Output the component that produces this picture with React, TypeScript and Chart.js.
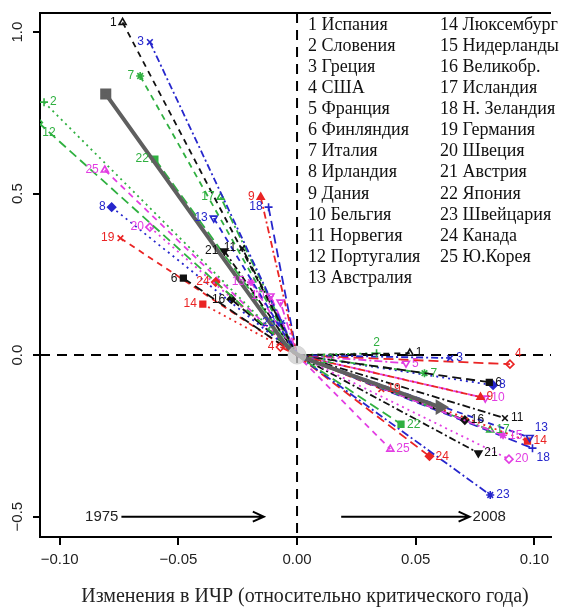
import React, { useEffect, useRef } from "react";
import { Chart, registerables } from "chart.js";
Chart.register(...registerables);

const countryNames = [
  "Испания", "Словения", "Греция", "США", "Франция", "Финляндия", "Италия",
  "Ирландия", "Дания", "Бельгия", "Норвегия", "Португалия", "Австралия",
  "Люксембург", "Нидерланды", "Великобр.", "Исландия", "Н. Зеландия",
  "Германия", "Швеция", "Австрия", "Япония", "Швейцария", "Канада", "Ю.Корея",
];

// 1975 positions (left)
const x1975 = [
  -0.0735, -0.1066, -0.062, -0.007, -0.007, -0.0479, -0.0661, -0.0781, -0.0153,
  -0.0112, -0.0231, -0.109, -0.0351, -0.0397, -0.0194, -0.0277, -0.0322, -0.012,
  -0.0744, -0.062, -0.0306, -0.0599, -0.0066, -0.0343, -0.081,
];
const y1975 = [
  1.03, 0.783, 0.969, 0.025, 0.164, 0.238, 0.864, 0.458, 0.489, 0.183, 0.331,
  0.72, 0.424, 0.158, 0.226, 0.173, 0.489, 0.458, 0.362, 0.396, 0.322, 0.607,
  0.099, 0.226, 0.573,
];
// 2008 positions (right)
const x2008 = [
  0.0475, 0.0335, 0.0645, 0.0897, 0.0459, 0.081, 0.0537, 0.0826, 0.0773,
  0.0793, 0.0876, 0.0074, 0.098, 0.0971, 0.0868, 0.0707, 0.0814, 0.0992,
  0.0355, 0.0893, 0.0764, 0.0438, 0.0814, 0.0558, 0.0393,
];
const y2008 = [
  0.006, 0.006, -0.009, -0.028, -0.025, -0.084, -0.056, -0.093, -0.13, -0.133,
  -0.195, -0.015, -0.255, -0.266, -0.248, -0.201, -0.232, -0.288, -0.105,
  -0.322, -0.303, -0.214, -0.433, -0.313, -0.291,
];

// average trajectory (gray)
const avgX = [-0.0806, -0.005, 0.0, 0.007, 0.0603];
const avgY = [0.808, 0.035, 0.003, -0.02, -0.161];

const xTicks = [-0.1, -0.05, 0, 0.05, 0.1];
const xTickLabels = ["−0.10", "−0.05", "0.00", "0.05", "0.10"];
const yTicks = [-0.5, 0, 0.5, 1.0];
const yTickLabels = ["−0.5", "0.0", "0.5", "1.0"];

const xTitle = "Изменения в ИЧР (относительно критического года)";
const leftYear = "1975";
const rightYear = "2008";
const leftArrowX = [-0.074, -0.014];
const rightArrowX = [0.0186, 0.0727];
const arrowY = -0.5;

// styles
const palette = ["#111111", "#2fb040", "#2626cc", "#ea2424", "#e23de2"];
const dashes = [[6, 5], [2, 4], [7, 3, 2, 3], [10, 5], [2, 3, 8, 3], [9, 5]];
const markerStyle = [
  "triangle", "cross", "crossRot", "rectRot", "triangle", "rect", "star",
  "rectRot", "triangle", "triangle", "crossRot", "rectRot", "triangle", "rect",
  "star", "rectRot", "triangle", "cross", "crossRot", "rectRot", "triangle",
  "rect", "star", "rectRot", "triangle",
];
const markerFilled = [0,0,0,0,0,1,0,1,1,0,0,0,0,1,0,1,0,0,0,0,1,1,0,1,0];
const markerFlip = [0,0,0,0,1,0,0,0,0,1,0,0,1,0,0,0,0,0,0,0,1,0,0,0,0];
const leftLabelPlace: Record<number, string> = { 2: "r", 12: "br" };
const rightLabelPlace: Record<number, string> = { 2: "t", 4: "tr", 13: "tr", 18: "br" };

export default function App() {
  const ref = useRef<HTMLCanvasElement>(null);
  useEffect(() => {
    if (!ref.current) return;
    const datasets: any[] = [];
    datasets.push({
      data: [{ x: 0, y: 0 }],
      pointRadius: 9,
      pointBackgroundColor: "rgba(205,205,205,0.75)",
      pointBorderColor: "rgba(205,205,205,0.75)",
      order: 0,
    });
    datasets.push({
      data: avgX.map((x, i) => ({ x, y: avgY[i] })),
      showLine: true,
      borderColor: "#5f5f5f",
      borderWidth: 4,
      tension: 0.3,
      pointRadius: avgX.map((_, i) => (i === 0 || i === avgX.length - 1 ? 5 : 0)),
      pointStyle: avgX.map((_, i) => (i === 0 ? "rect" : "triangle")),
      pointRotation: avgX.map((_, i) => (i === avgX.length - 1 ? 90 : 0)),
      pointBackgroundColor: "#5f5f5f",
      pointBorderColor: "#5f5f5f",
      order: 1,
    });
    countryNames.forEach((_, i) => {
      const col = palette[i % 5];
      datasets.push({
        data: [
          { x: x1975[i], y: y1975[i] },
          { x: 0, y: 0 },
          { x: x2008[i], y: y2008[i] },
        ],
        showLine: true,
        borderColor: col,
        borderWidth: 1.8,
        borderDash: dashes[i % 6],
        pointRadius: [4, 0, 4],
        pointStyle: markerStyle[i],
        pointRotation: markerFlip[i] ? 180 : 0,
        pointBackgroundColor: markerFilled[i] ? col : "rgba(255,255,255,0)",
        pointBorderColor: col,
        pointBorderWidth: 1.6,
        order: 2 + i,
      });
    });

    const drawPlugin = {
      id: "decor",
      beforeDatasetsDraw(chart: any) {
        const { ctx, chartArea, scales } = chart;
        const x0 = scales.x.getPixelForValue(0);
        const y0 = scales.y.getPixelForValue(0);
        ctx.save();
        ctx.strokeStyle = "#000";
        ctx.lineWidth = 2;
        ctx.setLineDash([10, 7]);
        ctx.beginPath();
        ctx.moveTo(chartArea.left, y0);
        ctx.lineTo(chartArea.right, y0);
        ctx.moveTo(x0, chartArea.top);
        ctx.lineTo(x0, chartArea.bottom);
        ctx.stroke();
        ctx.restore();
      },
      afterDraw(chart: any) {
        const { ctx, chartArea, scales } = chart;
        const sx = scales.x, sy = scales.y;
        ctx.save();
        // top border
        ctx.strokeStyle = "#000";
        ctx.lineWidth = 2;
        ctx.beginPath();
        ctx.moveTo(chartArea.left - 1, chartArea.top);
        ctx.lineTo(chartArea.right, chartArea.top);
        ctx.stroke();
        // y tick labels rotated
        ctx.fillStyle = "#222";
        ctx.font = "15px 'Liberation Sans', Arial, sans-serif";
        ctx.textAlign = "center";
        ctx.textBaseline = "middle";
        yTicks.forEach((v, i) => {
          const py = sy.getPixelForValue(v);
          ctx.save();
          ctx.translate(18, py);
          ctx.rotate(-Math.PI / 2);
          ctx.fillText(yTickLabels[i], 0, 0);
          ctx.restore();
        });
        // x axis title
        ctx.fillStyle = "#222";
        ctx.font = "20px 'Liberation Serif', 'Times New Roman', serif";
        ctx.textAlign = "center";
        ctx.textBaseline = "middle";
        ctx.fillText(xTitle, 305, 597);
        // legend
        ctx.font = "18px 'Liberation Serif', 'Times New Roman', serif";
        ctx.textAlign = "left";
        ctx.fillStyle = "#111";
        countryNames.forEach((n, i) => {
          const col = i < 13 ? 0 : 1;
          const row = i < 13 ? i : i - 13;
          ctx.fillText(`${i + 1} ${n}`, col === 0 ? 308 : 440, 25 + row * 21.1);
        });
        // arrows
        const ay = sy.getPixelForValue(arrowY);
        const drawArrow = (a: number, b: number) => {
          const pa = sx.getPixelForValue(a), pb = sx.getPixelForValue(b);
          ctx.strokeStyle = "#000";
          ctx.lineWidth = 2;
          ctx.beginPath();
          ctx.moveTo(pa, ay);
          ctx.lineTo(pb, ay);
          ctx.moveTo(pb - 11, ay - 5);
          ctx.lineTo(pb, ay);
          ctx.lineTo(pb - 11, ay + 5);
          ctx.stroke();
        };
        drawArrow(leftArrowX[0], leftArrowX[1]);
        drawArrow(rightArrowX[0], rightArrowX[1]);
        ctx.fillStyle = "#222";
        ctx.font = "15px 'Liberation Sans', Arial, sans-serif";
        ctx.textAlign = "right";
        ctx.fillText(leftYear, sx.getPixelForValue(leftArrowX[0]) - 3, ay);
        ctx.textAlign = "left";
        ctx.fillText(rightYear, sx.getPixelForValue(rightArrowX[1]) + 3, ay);
        // point labels
        ctx.save();
        ctx.beginPath();
        ctx.rect(chartArea.left, chartArea.top, chartArea.right - chartArea.left, chartArea.bottom - chartArea.top);
        ctx.clip();
        ctx.font = "12px 'Liberation Sans', Arial, sans-serif";
        const place = (txt: string, px: number, py: number, where: string) => {
          let dx = -6, dy = 0, al: CanvasTextAlign = "right";
          if (where === "r") { dx = 6; al = "left"; }
          if (where === "t") { dx = 0; dy = -10; al = "center"; }
          if (where === "tr") { dx = 5; dy = -10; al = "left"; }
          if (where === "br") { dx = 4; dy = 10; al = "left"; }
          ctx.textAlign = al;
          ctx.fillText(txt, px + dx, py + dy);
        };
        countryNames.forEach((_, i) => {
          ctx.fillStyle = palette[i % 5];
          const k = i + 1;
          place(String(k), sx.getPixelForValue(x1975[i]), sy.getPixelForValue(y1975[i]), leftLabelPlace[k] || "l");
          place(String(k), sx.getPixelForValue(x2008[i]), sy.getPixelForValue(y2008[i]), rightLabelPlace[k] || "r");
        });
        ctx.restore();
        ctx.restore();
      },
    };

    const chart = new Chart(ref.current, {
      type: "scatter",
      data: { datasets },
      options: {
        animation: false,
        responsive: false,
        devicePixelRatio: 1,
        layout: { padding: { top: 13, right: 0, left: 0, bottom: 0 } },
        plugins: { legend: { display: false }, tooltip: { enabled: false } },
        scales: {
          x: {
            type: "linear",
            min: -0.1083,
            max: 0.107,
            afterBuildTicks: (s: any) => { s.ticks = xTicks.map((v) => ({ value: v })); },
            afterFit: (s: any) => { s.height = 70; },
            grid: { display: true, drawOnChartArea: false, drawTicks: true, tickLength: 8, color: "#000", lineWidth: 2 },
            border: { display: true, color: "#000", width: 2 },
            ticks: {
              color: "#222",
              padding: 6,
              maxRotation: 0,
              font: { family: "'Liberation Sans', Arial, sans-serif", size: 15 },
              callback: (v: any) => {
                const idx = xTicks.findIndex((t) => Math.abs(t - Number(v)) < 1e-9);
                return idx >= 0 ? xTickLabels[idx] : "";
              },
            },
          },
          y: {
            type: "linear",
            min: -0.563,
            max: 1.059,
            afterBuildTicks: (s: any) => { s.ticks = yTicks.map((v) => ({ value: v })); },
            afterFit: (s: any) => { s.width = 40; },
            grid: { display: true, drawOnChartArea: false, drawTicks: true, tickLength: 7, color: "#000", lineWidth: 2 },
            border: { display: true, color: "#000", width: 2 },
            ticks: { display: false },
          },
        },
      } as any,
      plugins: [drawPlugin],
    });
    return () => chart.destroy();
  }, []);
  return (
    <div style={{ position: "absolute", left: 0, top: 0, width: 561, height: 607, background: "#fff" }}>
      <canvas ref={ref} width={561} height={607} style={{ display: "block" }} />
    </div>
  );
}
